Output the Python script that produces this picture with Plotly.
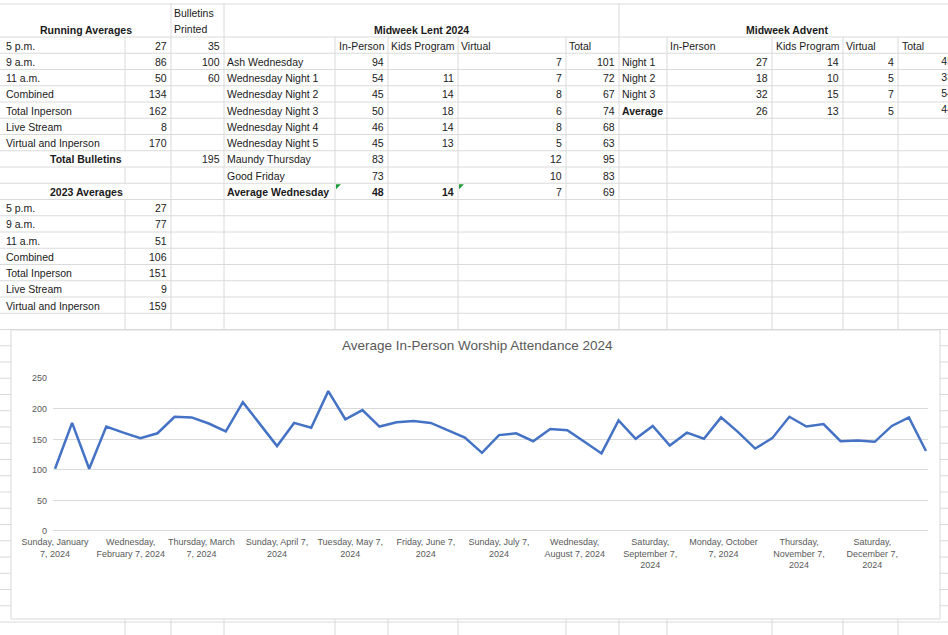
import plotly.graph_objects as go

# ---------------- data ----------------
ra_labels = ["5 p.m.", "9 a.m.", "11 a.m.", "Combined", "Total Inperson", "Live Stream", "Virtual and Inperson"]
ra_values = [27, 86, 50, 134, 162, 8, 170]
bulletins_printed = [35, 100, 60]
total_bulletins = 195
avg2023_values = [27, 77, 51, 106, 151, 9, 159]

lent_labels = ["Ash Wednesday", "Wednesday Night 1", "Wednesday Night 2", "Wednesday Night 3",
               "Wednesday Night 4", "Wednesday Night 5", "Maundy Thursday", "Good Friday", "Average Wednesday"]
lent_inperson = [94, 54, 45, 50, 46, 45, 83, 73, 48]
lent_kids = [None, 11, 14, 18, 14, 13, None, None, 14]
lent_virtual = [7, 7, 8, 6, 8, 5, 12, 10, 7]
lent_total = [101, 72, 67, 74, 68, 63, 95, 83, 69]

advent_labels = ["Night 1", "Night 2", "Night 3", "Average"]
advent_inperson = [27, 18, 32, 26]
advent_kids = [14, 10, 15, 13]
advent_virtual = [4, 5, 7, 5]
advent_total = [45, 33, 54, 44]

sunday_dates = [
    "2024-01-07", "2024-01-14", "2024-01-21", "2024-01-28",
    "2024-02-04", "2024-02-11", "2024-02-18", "2024-02-25",
    "2024-03-03", "2024-03-10", "2024-03-17", "2024-03-24", "2024-03-31",
    "2024-04-07", "2024-04-14", "2024-04-21", "2024-04-28",
    "2024-05-05", "2024-05-12", "2024-05-19", "2024-05-26",
    "2024-06-02", "2024-06-09", "2024-06-16", "2024-06-23", "2024-06-30",
    "2024-07-07", "2024-07-14", "2024-07-21", "2024-07-28",
    "2024-08-04", "2024-08-11", "2024-08-18", "2024-08-25",
    "2024-09-01", "2024-09-08", "2024-09-15", "2024-09-22", "2024-09-29",
    "2024-10-06", "2024-10-13", "2024-10-20", "2024-10-27",
    "2024-11-03", "2024-11-10", "2024-11-17", "2024-11-24",
    "2024-12-01", "2024-12-08", "2024-12-15", "2024-12-22", "2024-12-29",
]
attendance = [102, 177, 102, 171, 161, 152, 160, 187, 186, 176, 163, 211, 175, 139, 177, 169,
              229, 183, 198, 171, 178, 180, 177, 165, 153, 128, 157, 160, 147, 167, 165, 146,
              127, 181, 151, 172, 140, 161, 151, 186, 162, 135, 152, 187, 171, 175, 147, 148,
              146, 172, 186, 131]

tick_dates = ["2024-01-07", "2024-02-07", "2024-03-07", "2024-04-07", "2024-05-07", "2024-06-07",
              "2024-07-07", "2024-08-07", "2024-09-07", "2024-10-07", "2024-11-07", "2024-12-07"]
tick_labels = ["Sunday, January<br>7, 2024", "Wednesday,<br>February 7, 2024", "Thursday, March<br>7, 2024",
               "Sunday, April 7,<br>2024", "Tuesday, May 7,<br>2024", "Friday, June 7,<br>2024",
               "Sunday, July 7,<br>2024", "Wednesday,<br>August 7, 2024", "Saturday,<br>September 7,<br>2024",
               "Monday, October<br>7, 2024", "Thursday,<br>November 7,<br>2024", "Saturday,<br>December 7,<br>2024"]

chart_title = "Average In-Person Worship Attendance 2024"

# ---------------- layout helpers ----------------
W, H = 948, 635
FONT = "Liberation Sans"
FS = 10.5
TXT = "#1a1a1a"
GRID = "#dadada"


def px(x):
    return x / W


def py(y):
    return 1 - y / H


ROW0 = 37.0
ROWH = 16.25


def r(i):
    return ROW0 + ROWH * i


def row_mid(k):
    return r(k) + ROWH / 2 + 0.5


annotations = []


def cell(text, x, y, anchor="left", bold=False, size=FS, color=TXT):
    if text is None:
        return
    s = str(text)
    if bold:
        s = "<b>" + s + "</b>"
    annotations.append(dict(text=s, x=px(x), y=py(y), xref="paper", yref="paper",
                            xanchor=anchor, yanchor="middle", showarrow=False,
                            font=dict(family=FONT, size=size, color=color), borderpad=0))


shapes = []


def hline(y, x0=0, x1=W):
    shapes.append(dict(type="line", xref="paper", yref="paper", x0=px(x0), x1=px(x1),
                       y0=py(y), y1=py(y), line=dict(color=GRID, width=1), layer="below"))


def vline(x, y0, y1):
    shapes.append(dict(type="line", xref="paper", yref="paper", x0=px(x), x1=px(x),
                       y0=py(y0), y1=py(y1), line=dict(color=GRID, width=1), layer="below"))


# spreadsheet grid
hline(4)
k = 0
while r(k) <= H:
    hline(r(k))
    k += 1

CHART_TOP, CHART_BOT = 330, 619
vline(125, r(0), r(7))
vline(125, r(8), r(9))
vline(125, r(10), H)
for x in [171, 224, 619]:
    vline(x, 4, H)
for x in [335, 388, 458, 566, 667, 772, 843, 898]:
    vline(x, r(0), H)

# chart container (covers the grid)
shapes.append(dict(type="rect", xref="paper", yref="paper", x0=px(11), x1=px(940),
                   y0=py(CHART_BOT), y1=py(CHART_TOP), fillcolor="white",
                   line=dict(color="#d9d9d9", width=1), layer="below"))

# green error indicators
for gx in [336, 459]:
    y0 = r(9) + 1
    shapes.append(dict(type="path", xref="paper", yref="paper",
                       path=f"M {px(gx)} {py(y0)} L {px(gx + 5)} {py(y0)} L {px(gx)} {py(y0 + 5)} Z",
                       fillcolor="#1f9b3a", line=dict(width=0), layer="above"))

# ---------------- sheet text ----------------
cell("Running Averages", 86, 30, "center", bold=True)
cell("Bulletins", 173, 13)
cell("Printed", 173, 29)
cell("Midweek Lent 2024", 421, 30, "center", bold=True)
cell("Midweek Advent", 787, 30, "center", bold=True)

for i, (lab, val) in enumerate(zip(ra_labels, ra_values)):
    cell(lab, 5, row_mid(i))
    cell(val, 168, row_mid(i), "right")
for i, b in enumerate(bulletins_printed):
    cell(b, 221, row_mid(i), "right")
cell("Total Bulletins", 86, row_mid(7), "center", bold=True)
cell(total_bulletins, 221, row_mid(7), "right")
cell("2023 Averages", 86, row_mid(9), "center", bold=True)
for i, (lab, val) in enumerate(zip(ra_labels, avg2023_values)):
    cell(lab, 5, row_mid(10 + i))
    cell(val, 168, row_mid(10 + i), "right")

# Lent table
for name, x in [("In-Person", 338), ("Kids Program", 390), ("Virtual", 460), ("Total", 568)]:
    cell(name, x, row_mid(0))
for i, lab in enumerate(lent_labels):
    last = i == len(lent_labels) - 1
    cell(lab, 226, row_mid(1 + i), bold=last)
    cell(lent_inperson[i], 385, row_mid(1 + i), "right", bold=last)
    cell(lent_kids[i], 455, row_mid(1 + i), "right", bold=last)
    cell(lent_virtual[i], 563, row_mid(1 + i), "right")
    cell(lent_total[i], 616, row_mid(1 + i), "right")

# Advent table
for name, x in [("In-Person", 669), ("Kids Program", 775), ("Virtual", 845), ("Total", 901)]:
    cell(name, x, row_mid(0))
for i, lab in enumerate(advent_labels):
    cell(lab, 621, row_mid(1 + i), bold=(lab == "Average"))
    cell(advent_inperson[i], 769, row_mid(1 + i), "right")
    cell(advent_kids[i], 840, row_mid(1 + i), "right")
    cell(advent_virtual[i], 895, row_mid(1 + i), "right")

# chart title
cell(chart_title, 478, 345, "center", size=13.5, color="#595959")

# ---------------- figure ----------------
fig = go.Figure()
fig.add_trace(go.Scatter(x=sunday_dates, y=attendance, mode="lines",
                         line=dict(color="#4472C4", width=2.5), hoverinfo="skip"))

# Advent totals are cut off by the right window edge: draw them on a pixel-space
# overlay axis so they get clipped like in the screenshot.
fig.add_trace(go.Scatter(x=[953] * len(advent_total), y=[row_mid(1 + i) for i in range(len(advent_total))],
                         text=[str(v) for v in advent_total], mode="text", textposition="middle left",
                         textfont=dict(family=FONT, size=FS, color=TXT), cliponaxis=True,
                         xaxis="x2", yaxis="y2", hoverinfo="skip"))

fig.update_layout(
    width=W, height=H,
    autosize=False,
    hovermode=False,
    margin=dict(l=0, r=0, t=0, b=0, pad=0, autoexpand=False),
    paper_bgcolor="white",
    plot_bgcolor="rgba(0,0,0,0)",
    showlegend=False,
    shapes=shapes,
    annotations=annotations,
    xaxis=dict(type="date", domain=[px(53), px(928)],
               range=["2024-01-06 04:00", "2024-12-29 20:00"],
               tickvals=tick_dates, ticktext=tick_labels,
               showgrid=False, zeroline=False, showline=False, ticks="",
               tickangle=0, automargin=False,
               tickfont=dict(family=FONT, size=9, color="#595959"),
               ticklabelstandoff=4),
    yaxis=dict(domain=[py(531), py(378.3)], range=[-0.01, 250.01], dtick=50, tick0=0,
               showgrid=True, gridcolor="#d9d9d9", gridwidth=1,
               zeroline=True, zerolinecolor="#d9d9d9", zerolinewidth=1,
               showline=False, ticks="", automargin=False,
               tickfont=dict(family=FONT, size=9, color="#595959"),
               ticklabelstandoff=5),
    xaxis2=dict(domain=[0, 1], range=[0, W], visible=False, automargin=False,
                anchor="y2", fixedrange=True),
    yaxis2=dict(domain=[0, 1], range=[H, 0], visible=False, automargin=False,
                anchor="x2", fixedrange=True),
)

# the page's default body margin would shift the sheet by 8 px; remove it
fig.write_html("out.html", config={"displayModeBar": False, "staticPlot": True},
               post_script="document.body.style.margin='0px';")
